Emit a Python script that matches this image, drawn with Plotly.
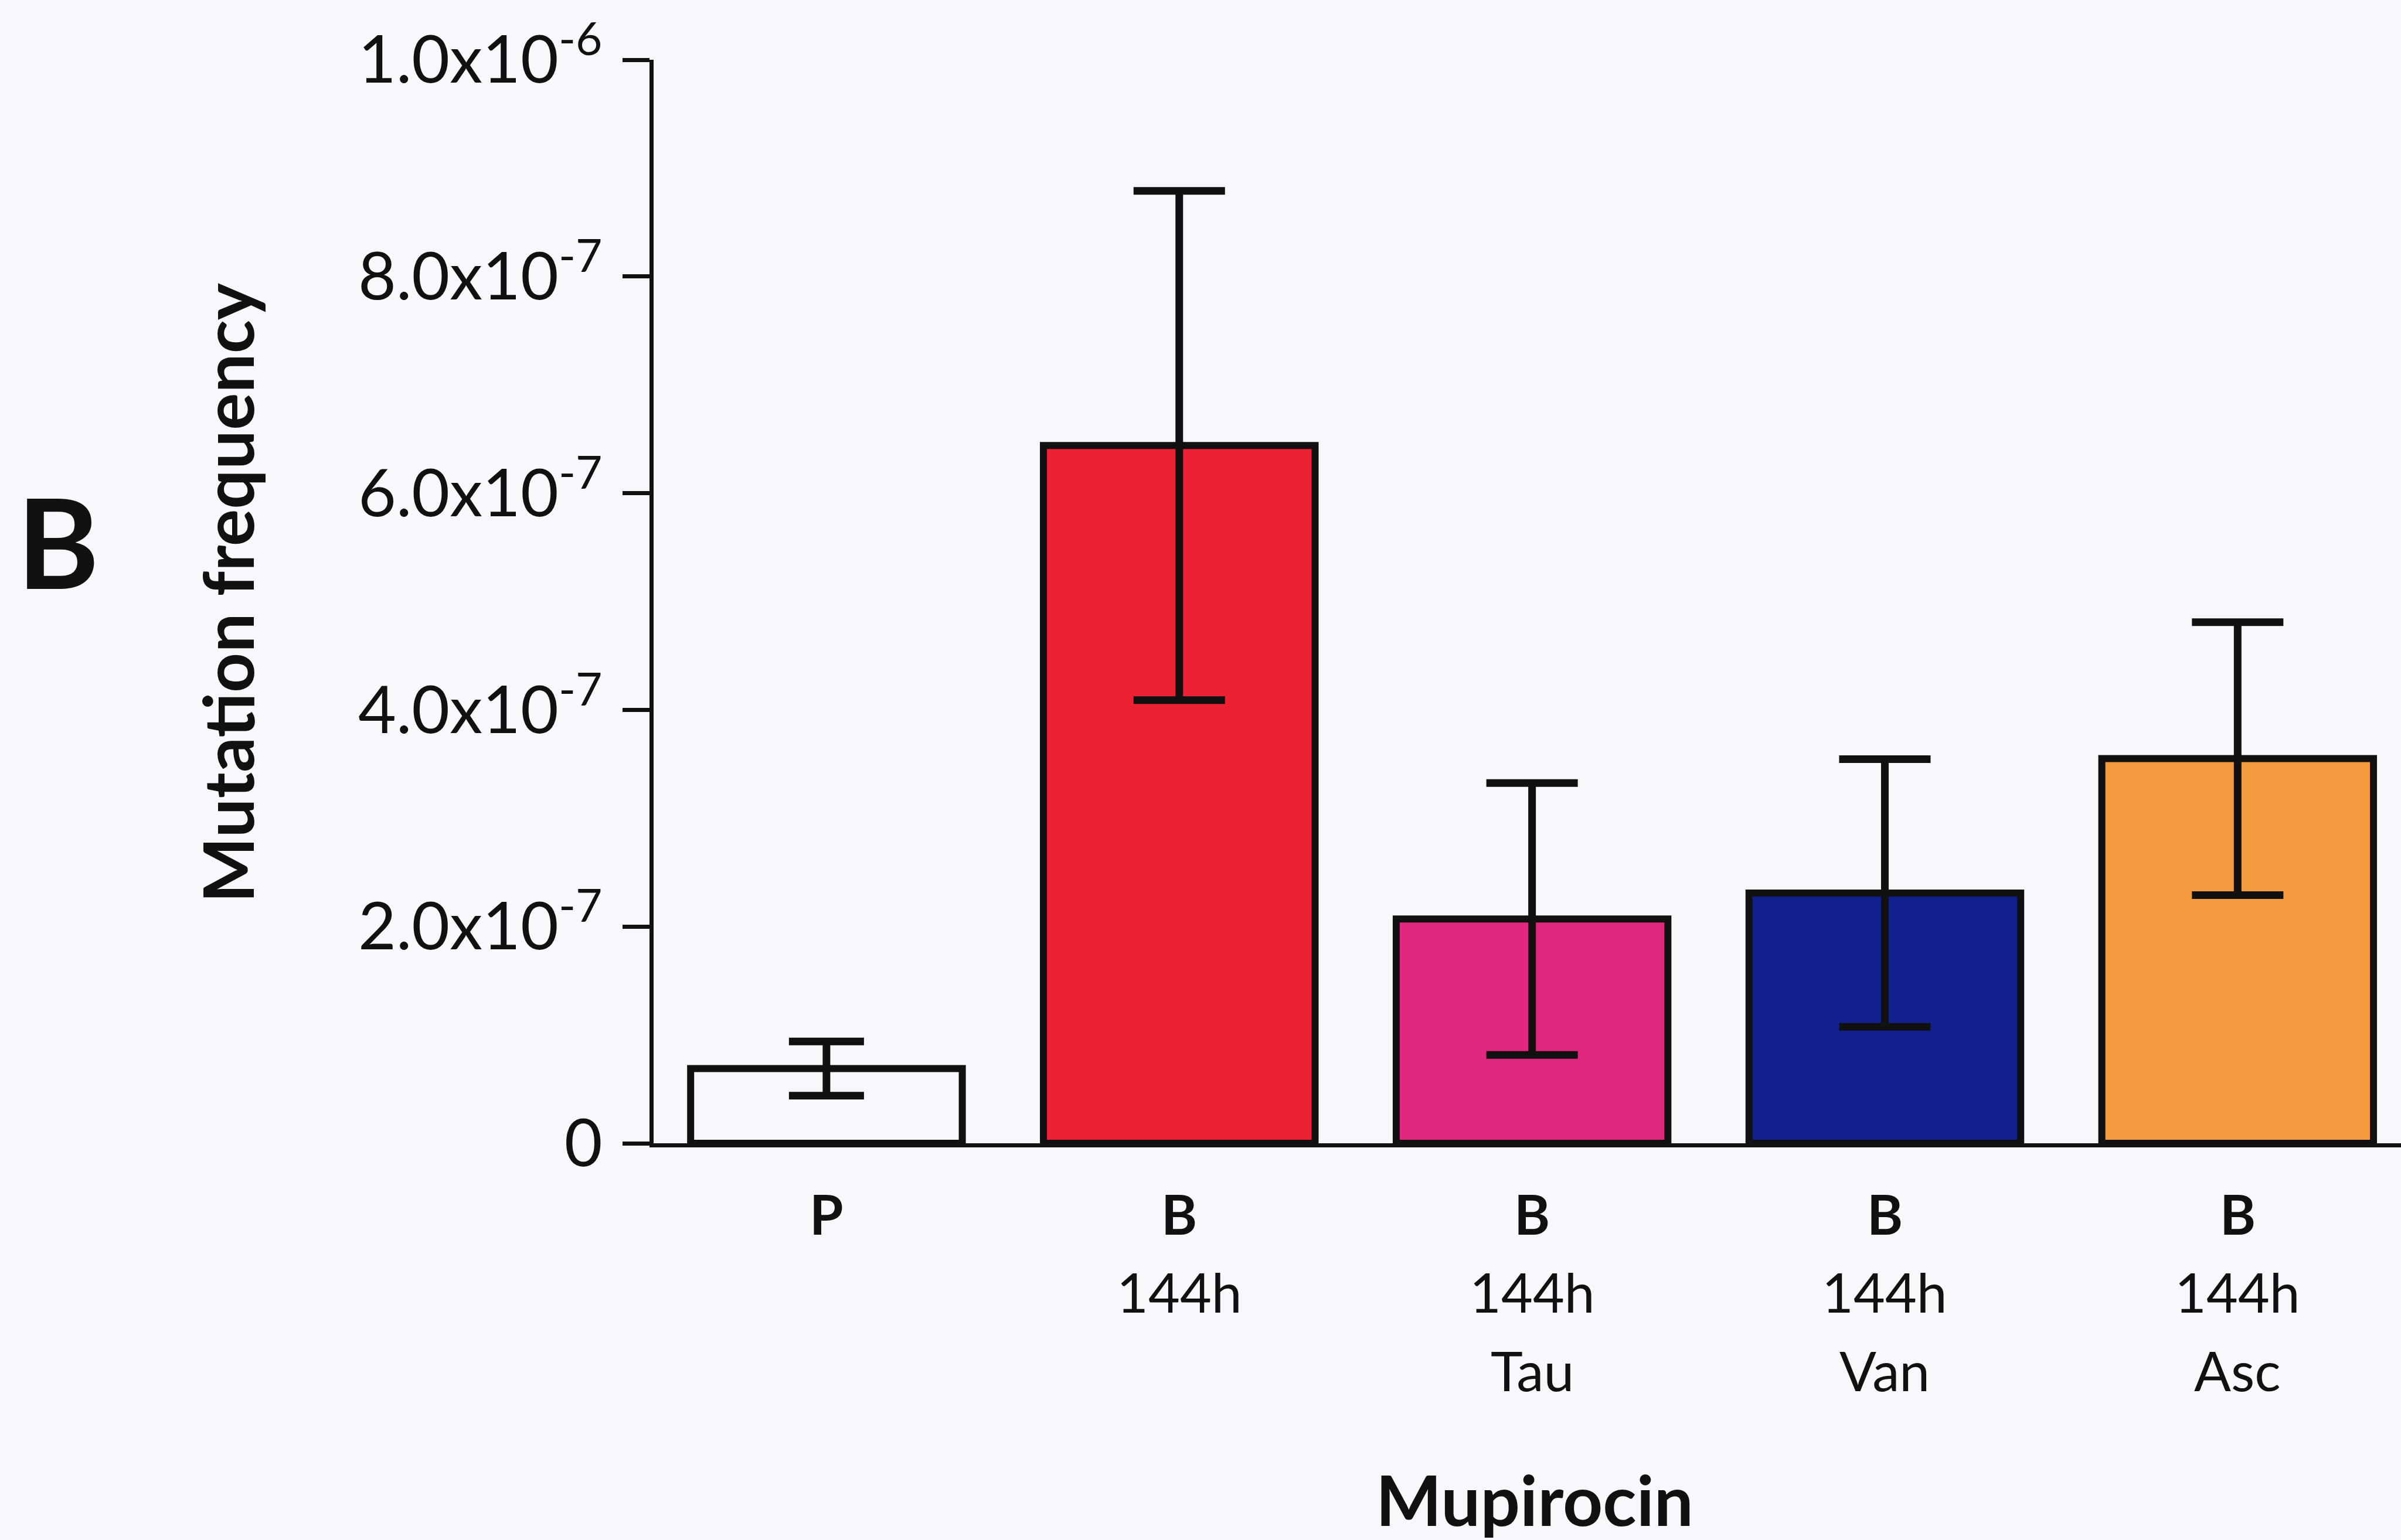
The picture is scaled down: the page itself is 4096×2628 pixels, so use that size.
import plotly.graph_objects as go

# Mutation frequency on mupirocin, planktonic (P) vs biofilm (B) cultures
categories = ["P", "B 144h", "B 144h Tau", "B 144h Van", "B 144h Asc"]
label_row1 = ["P", "B", "B", "B", "B"]
label_row2 = ["", "144h", "144h", "144h", "144h"]
label_row3 = ["", "", "Tau", "Van", "Asc"]
frequency = [0.69e-7, 6.44e-7, 2.07e-7, 2.31e-7, 3.55e-7]
sem = [0.25e-7, 2.35e-7, 1.255e-7, 1.235e-7, 1.26e-7]
fill_colors = ["#F6F8FC", "#EC2233", "#E0287F", "#11208C", "#F49A3F"]
cap_halfwidth = [64, 78, 78, 78, 78]

y_ticks = [0, 2e-7, 4e-7, 6e-7, 8e-7, 1e-6]
y_ticktext = ["0", "2.0x10<sup>-7</sup>", "4.0x10<sup>-7</sup>", "6.0x10<sup>-7</sup>",
              "8.0x10<sup>-7</sup>", "1.0x10<sup>-6</sup>"]

INK = "#111111"
BG = "#F6F8FC"
FONT = "Lato"

fig = go.Figure()
for cat, val, err, col, cap in zip(categories, frequency, sem, fill_colors, cap_halfwidth):
    fig.add_trace(go.Bar(
        x=[cat], y=[val],
        width=0.77,
        marker=dict(color=col, line=dict(color=INK, width=12)),
        error_y=dict(type="data", array=[err], visible=True,
                     color=INK, thickness=13, width=cap),
        showlegend=False,
    ))

# stacked category labels under each bar
rows = [(label_row1, True, -0.0649), (label_row2, False, -0.1368), (label_row3, False, -0.2093)]
for texts, bold, ypos in rows:
    for cat, t in zip(categories, texts):
        if not t:
            continue
        fig.add_annotation(
            x=cat, xref="x", y=ypos, yref="paper",
            text=f"<b>{t}</b>" if bold else t,
            showarrow=False, xanchor="center", yanchor="middle",
            font=dict(family=FONT, size=93, color=INK),
        )

fig.add_annotation(
    x=0.5042, xref="paper", y=-0.3285, yref="paper",
    text="<b>Mupirocin</b>", showarrow=False,
    xanchor="center", yanchor="middle",
    font=dict(family=FONT, size=119, color=INK),
)
fig.add_annotation(
    x=-0.2442, xref="paper", y=0.508, yref="paper",
    text="<b>Mutation frequency</b>", textangle=-90, showarrow=False,
    xanchor="center", yanchor="middle",
    font=dict(family=FONT, size=119, color=INK),
)
fig.add_annotation(
    x=-0.3408, xref="paper", y=0.5565, yref="paper",
    text="<b>B</b>", showarrow=False,
    xanchor="center", yanchor="middle",
    font=dict(family=FONT, size=213, color=INK),
)

fig.update_layout(
    width=4096, height=2628,
    margin=dict(l=1115, r=0, t=102, b=677),
    paper_bgcolor=BG, plot_bgcolor=BG,
    barmode="overlay",
    font=dict(family=FONT, color=INK),
    xaxis=dict(
        type="category", range=[-0.49, 4.463],
        showticklabels=False, ticks="",
        showline=True, linecolor=INK, linewidth=7,
        showgrid=False, zeroline=False, fixedrange=True,
    ),
    yaxis=dict(
        range=[0, 1.0e-6 * 1.000001],
        tickmode="array", tickvals=y_ticks, ticktext=y_ticktext,
        ticks="outside", ticklen=46, tickwidth=7, tickcolor=INK,
        ticklabelstandoff=12,
        tickfont=dict(family=FONT, size=112, color=INK),
        showline=True, linecolor=INK, linewidth=7,
        showgrid=False, zeroline=False, fixedrange=True,
    ),
)

fig.write_html("out.html")
